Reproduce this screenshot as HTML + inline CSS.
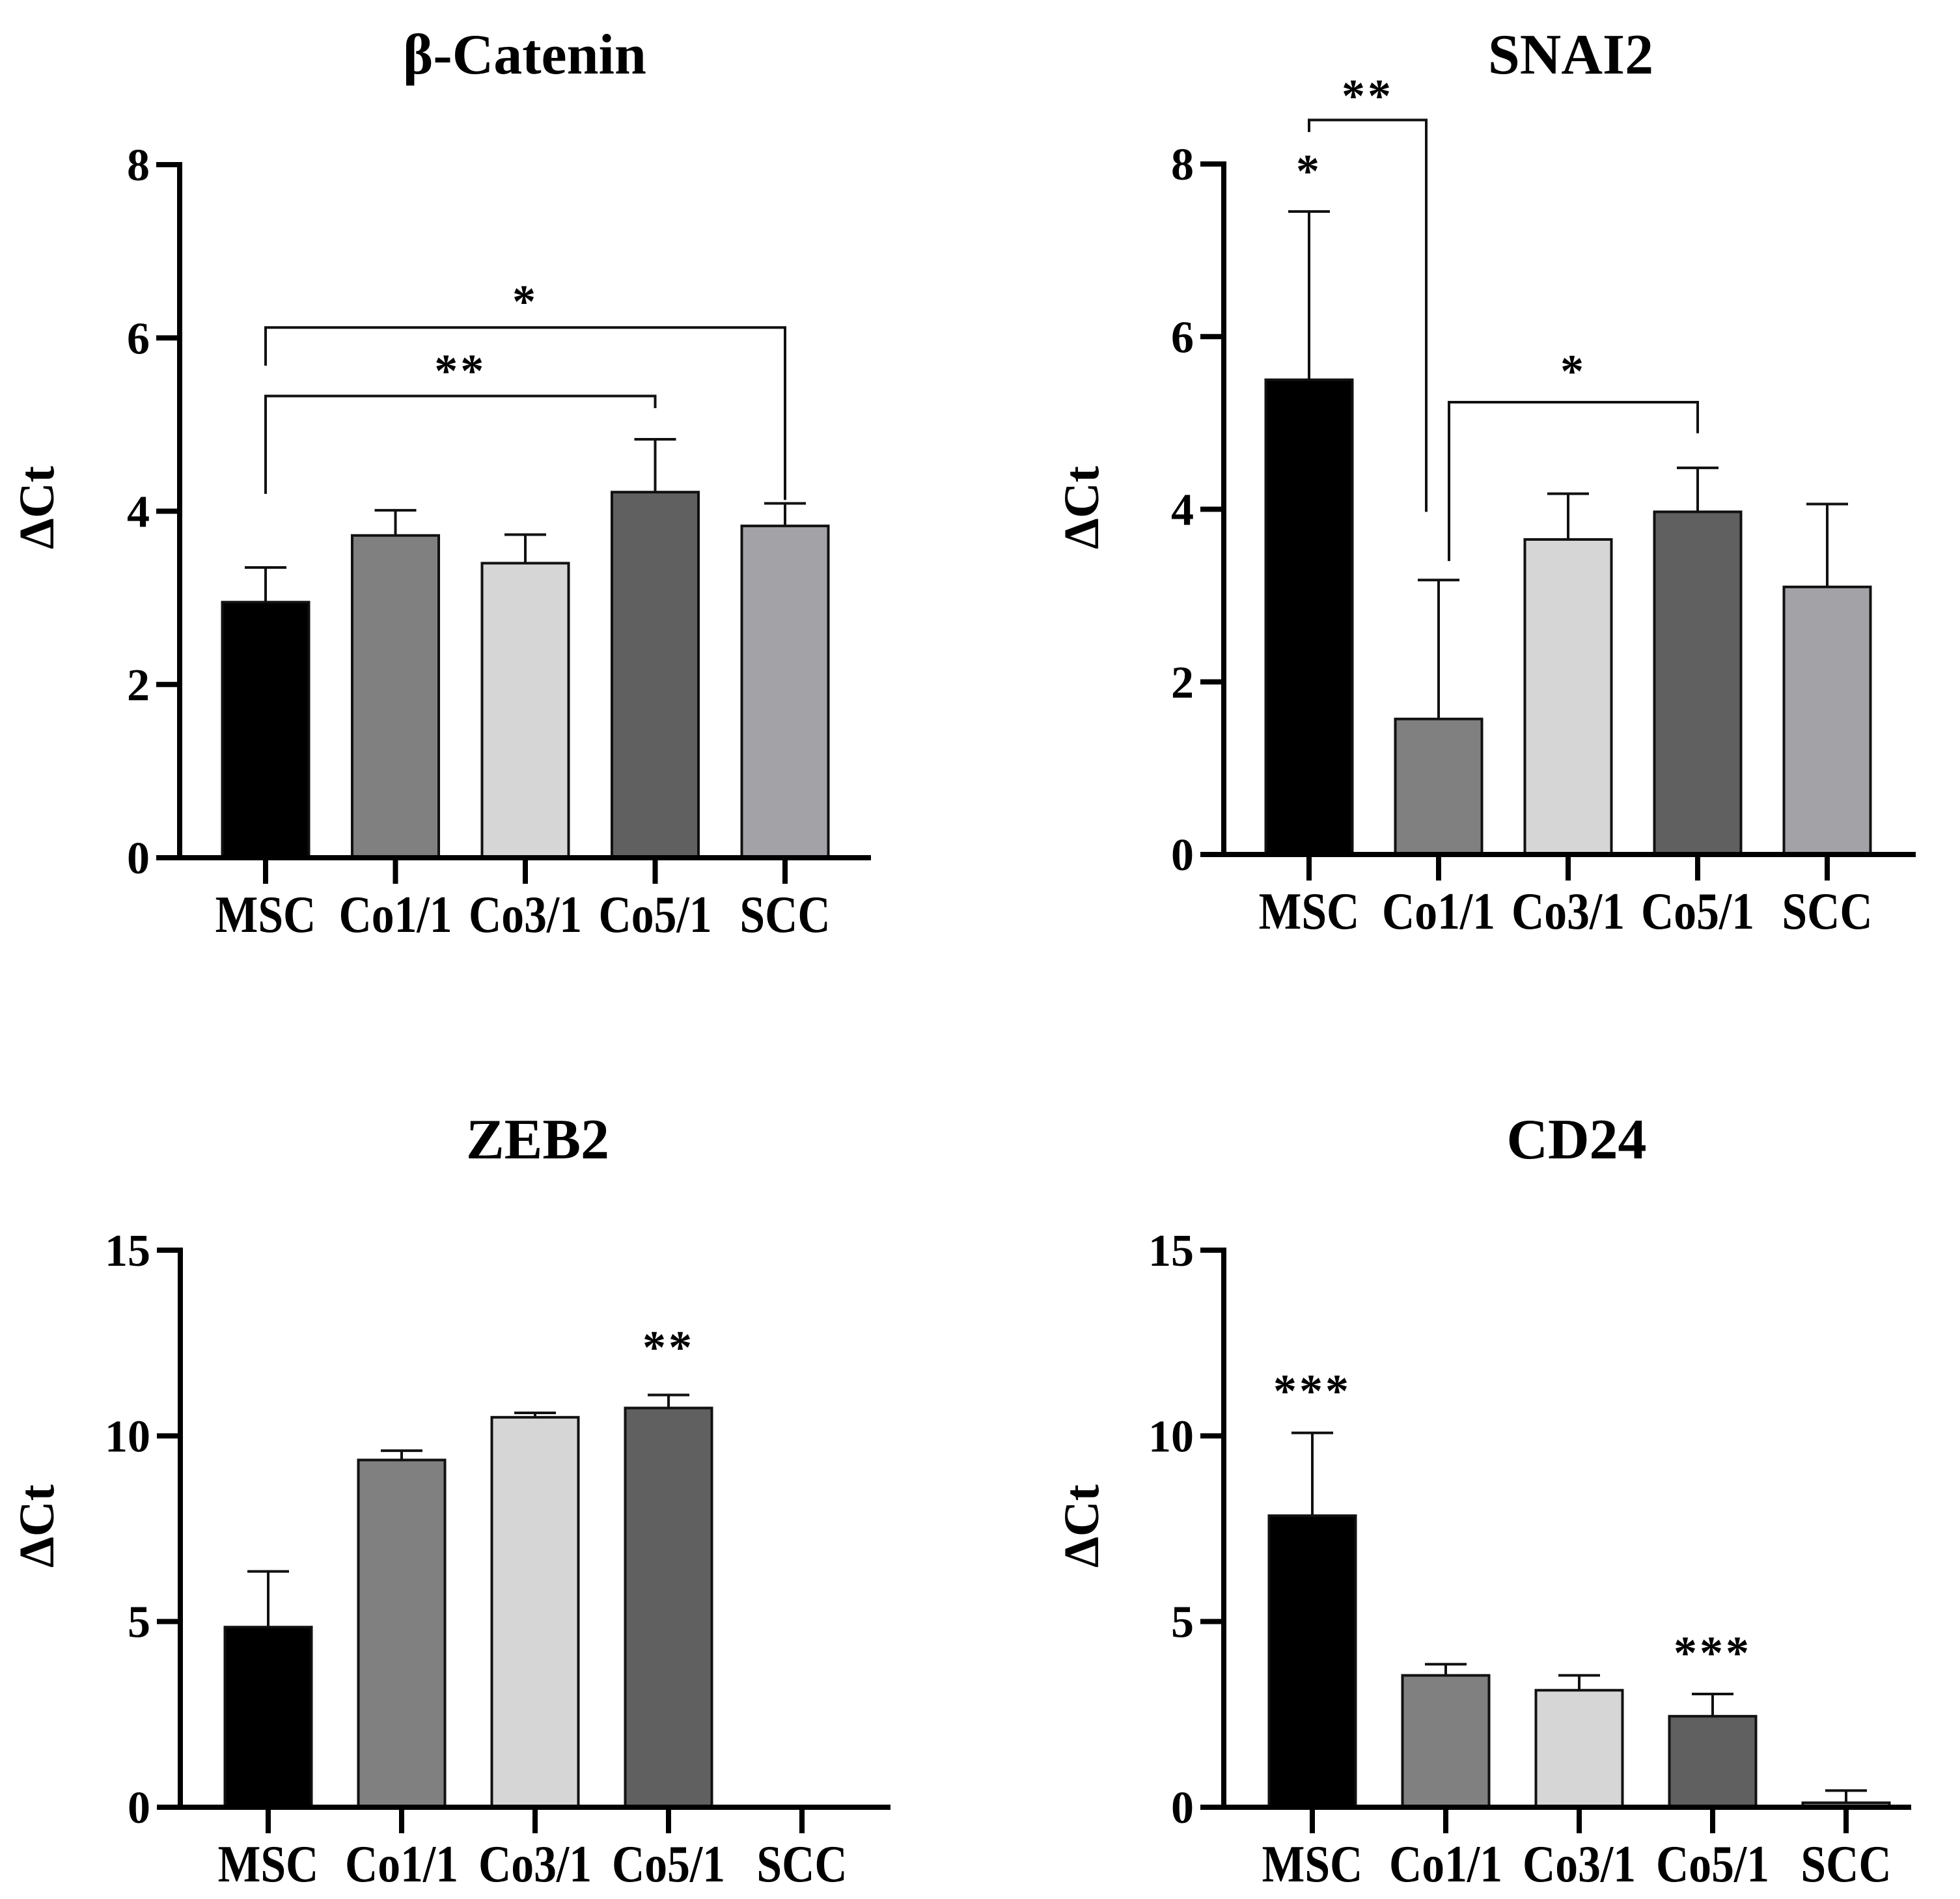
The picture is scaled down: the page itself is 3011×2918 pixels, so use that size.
<!DOCTYPE html>
<html><head><meta charset="utf-8">
<style>
html,body{margin:0;padding:0;background:#fff;}
svg{display:block;}
text{font-family:"Liberation Serif","Times New Roman",serif;font-weight:bold;fill:#000;}
</style></head>
<body>
<svg id="fig" width="3011" height="2918" viewBox="0 0 3011 2918" xmlns="http://www.w3.org/2000/svg"></svg>
<script>
const categories = ["MSC","Co1/1","Co3/1","Co5/1","SCC"];
const colors = ["#000000","#808080","#d6d6d6","#606060","#a3a3a7"];
const betaValues = [2.95,3.72,3.40,4.22,3.83];
const betaErrors = [3.35,4.01,3.73,4.83,4.09];
const snaiValues = [5.50,1.57,3.65,3.97,3.10];
const snaiErrors = [7.45,3.18,4.18,4.48,4.06];
const zebValues = [4.85,9.35,10.50,10.75,0];
const zebErrors = [6.35,9.60,10.62,11.10,0];
const cdValues = [7.85,3.55,3.15,2.45,0.12];
const cdErrors = [10.08,3.85,3.55,3.05,0.45];
const betaTicks = [0,2,4,6,8];
const snaiTicks = [0,2,4,6,8];
const zebTicks = [0,5,10,15];
const cdTicks = [0,5,10,15];
// brackets: [fromIndex, toIndex, barValue, leftLegEnd, rightLegEnd, label, labelValue]
const betaBrackets = [[0,3,5.33,4.2,5.19,"**",5.7],[0,4,6.12,5.68,4.13,"*",6.5]];
const snaiBrackets = [[0,1,8.51,8.37,3.97,"**",8.87],[1,3,5.24,3.40,4.88,"*",5.68]];
// single stars: [index, label, value]
const snaiStars = [[0,"*",8.0]];
const zebStars = [[3,"**",12.57]];
const cdStars = [[0,"***",11.4],[3,"***",4.35]];

const svg = document.getElementById('fig');
const NS = "http://www.w3.org/2000/svg";
function mk(tag, attrs, parent){
  const e = document.createElementNS(NS, tag);
  for (const k in attrs) e.setAttribute(k, attrs[k]);
  (parent||svg).appendChild(e);
  return e;
}
function starText(g, x, y, s){
  const t = mk('text',{x:x, y:y+35, 'text-anchor':'middle','font-size':72,'letter-spacing':4},g);
  
  
  t.textContent = s;
}

function panel(cfg){
  const g = mk('g',{});
  
  
  const ax = cfg.axisX, y0 = cfg.y0, yTop = cfg.yTop, ymax = cfg.ticks[cfg.ticks.length-1];
  const yS = v => y0 - (y0 - yTop) * v / ymax;
  const xS = i => cfg.x0 + cfg.step * i;
  const tt = mk('text',{x:cfg.titleX, y:cfg.titleY+30, 'text-anchor':'middle','font-size':88},g);
  
  
  tt.textContent = cfg.title;
  const yt = mk('text',{x:0,y:0,'text-anchor':'middle','font-size':76,transform:`translate(${cfg.ylabX+26},${cfg.ylabY}) rotate(-90)`},g);
  
  
  yt.textContent = 'ΔCt';
  cfg.values.forEach((v,i)=>{
    const cx = xS(i), w = 133;
    if (v > 0) {
      const r = mk('rect',{x:cx-w/2, y:yS(v), width:w, height:y0-yS(v), fill:colors[i], stroke:'#111', 'stroke-width':4},g);
      
      
    }
    const e = cfg.errors[i];
    if (e > v) {
      const eg = mk('g',{stroke:'#111','stroke-width':4},g);
      
      
      mk('line',{x1:cx,x2:cx,y1:yS(v),y2:yS(e)},eg);
      mk('line',{x1:cx-32,x2:cx+32,y1:yS(e),y2:yS(e)},eg);
    }
  });
  const axg = mk('g',{stroke:'#000','stroke-width':8,fill:'none'},g);
  
  
  mk('line',{x1:ax,x2:ax,y1:yTop-4,y2:y0+4},axg);
  mk('line',{x1:ax-36,x2:cfg.xEnd,y1:y0,y2:y0},axg);
  cfg.ticks.forEach(t=>{
    if (t>0) mk('line',{x1:ax-36,x2:ax+4,y1:yS(t),y2:yS(t)},axg);
    const tl = mk('text',{x:ax-46, y:yS(t)+24,'text-anchor':'end','font-size':70},g);
    
    
    tl.textContent = t;
  });
  categories.forEach((c,i)=>{
    mk('line',{x1:xS(i),x2:xS(i),y1:y0,y2:y0+40},axg);
    const cl = mk('text',{x:xS(i), y:y0+114,'text-anchor':'middle','font-size':80},g);
    
    
    cl.textContent = c;
    const L = cl.getComputedTextLength();
    if (L > 0) { cl.setAttribute('textLength', (L*0.87).toFixed(1)); cl.setAttribute('lengthAdjust','spacingAndGlyphs'); }
  });
  (cfg.brackets||[]).forEach((b,k)=>{
    const bg = mk('g',{stroke:'#111','stroke-width':4,fill:'none'},g);
    
    
    const off = (cfg.legOffsets||[])[k] || [0,0];
    const xa = xS(b[0])+off[0], xb = xS(b[1])+off[1];
    mk('polyline',{points:`${xa},${yS(b[3])} ${xa},${yS(b[2])} ${xb},${yS(b[2])} ${xb},${yS(b[4])}`},bg);
    starText(g,(xa+xb)/2,yS(b[6]),b[5]);
  });
  (cfg.stars||[]).forEach(s=>starText(g,xS(s[0]),yS(s[2]),s[1]));
}

panel({name:'beta-catenin-panel',title:'β-Catenin',titleX:806,titleY:83,ylabX:56,ylabY:780,
  axisX:276,y0:1318,yTop:253,x0:408,step:199.5,xEnd:1338,ticks:betaTicks,
  values:betaValues,errors:betaErrors,brackets:betaBrackets});
panel({name:'snai2-panel',title:'SNAI2',titleX:2413,titleY:83,ylabX:1661,ylabY:780,
  axisX:1880,y0:1313,yTop:252,x0:2011,step:199,xEnd:2943,ticks:snaiTicks,
  values:snaiValues,errors:snaiErrors,brackets:snaiBrackets,stars:snaiStars,
  legOffsets:[[0,-19],[16,0]]});
panel({name:'zeb2-panel',title:'ZEB2',titleX:826,titleY:1750,ylabX:56,ylabY:2345,
  axisX:277,y0:2777,yTop:1921,x0:412,step:205,xEnd:1368,ticks:zebTicks,
  values:zebValues,errors:zebErrors,stars:zebStars});
panel({name:'cd24-panel',title:'CD24',titleX:2422,titleY:1750,ylabX:1661,ylabY:2345,
  axisX:1880,y0:2777,yTop:1921,x0:2016,step:205,xEnd:2936,ticks:cdTicks,
  values:cdValues,errors:cdErrors,stars:cdStars});
</script>
</body></html>
